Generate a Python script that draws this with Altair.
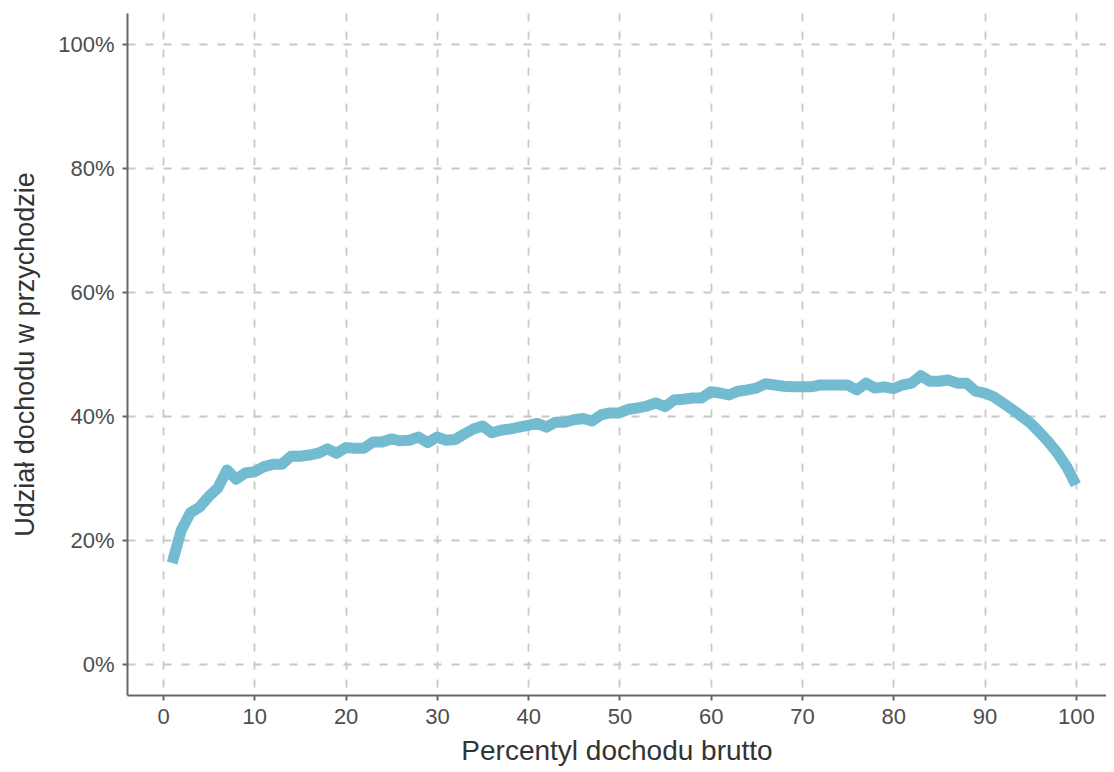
import altair as alt
import pandas as pd

percentiles = list(range(1, 101))
share = [
    16.3, 21.6, 24.4, 25.3, 27.0, 28.4, 31.3, 29.8, 30.8, 31.0,
    31.8, 32.2, 32.2, 33.5, 33.5, 33.7, 34.0, 34.7, 34.0, 34.9,
    34.8, 34.8, 35.8, 35.8, 36.3, 36.0, 36.1, 36.6, 35.7, 36.6,
    36.1, 36.2, 37.1, 37.9, 38.4, 37.3, 37.7, 37.9, 38.2, 38.5,
    38.8, 38.2, 39.0, 39.0, 39.4, 39.6, 39.2, 40.2, 40.5, 40.5,
    41.1, 41.3, 41.6, 42.1, 41.5, 42.6, 42.7, 42.9, 42.9, 43.9,
    43.7, 43.4, 44.0, 44.2, 44.5, 45.2, 45.0, 44.8, 44.7, 44.7,
    44.7, 45.0, 45.0, 45.0, 45.0, 44.2, 45.3, 44.5, 44.7, 44.4,
    45.0, 45.3, 46.5, 45.6, 45.6, 45.8, 45.3, 45.3, 44.0, 43.7,
    43.1, 42.1, 41.1, 40.0, 38.9, 37.4, 35.8, 34.0, 31.8, 28.9,
]
x_ticks = [0, 10, 20, 30, 40, 50, 60, 70, 80, 90, 100]
y_ticks = [0.0, 0.2, 0.4, 0.6, 0.8, 1.0]

df = pd.DataFrame({"p": percentiles, "s": [v / 100 for v in share]})

FONT = "Liberation Sans"

chart = (
    alt.Chart(df)
    .mark_line(color="#73BBD0", strokeWidth=11, strokeCap="butt", strokeJoin="round", clip=True)
    .encode(
        x=alt.X(
            "p:Q",
            scale=alt.Scale(domain=[-3.95, 103.3], nice=False, zero=False),
            axis=alt.Axis(
                values=x_ticks,
                title="Percentyl dochodu brutto",
                format="d",
            ),
        ),
        y=alt.Y(
            "s:Q",
            scale=alt.Scale(domain=[-0.05, 1.05], nice=False, zero=False),
            axis=alt.Axis(
                values=y_ticks,
                title="Udział dochodu w przychodzie",
                format=".0%",
            ),
        ),
    )
    .properties(
        width=979,
        height=682,
        autosize=alt.AutoSizeParams(type="none"),
        padding={"left": 119, "top": 5, "right": 0, "bottom": 74},
    )
    .configure_view(stroke=None)
    .configure_axis(
        grid=True,
        gridColor="#c8c8c8",
        gridDash=[8, 10],
        gridWidth=1.8,
        domainColor="#666666",
        domainWidth=2,
        tickColor="#666666",
        tickWidth=2,
        tickSize=5,
        labelFont=FONT,
        labelFontSize=22,
        labelColor="#4d4d4d",
        titleFont=FONT,
        titleFontWeight="normal",
        titleColor="#333333",
    )
    .configure_axisX(labelPadding=6, titlePadding=10, titleFontSize=28)
    .configure_axisY(labelPadding=8, titlePadding=18, titleFontSize=27)
)

chart.save("out.html", embed_options={"renderer": "svg", "actions": False})
